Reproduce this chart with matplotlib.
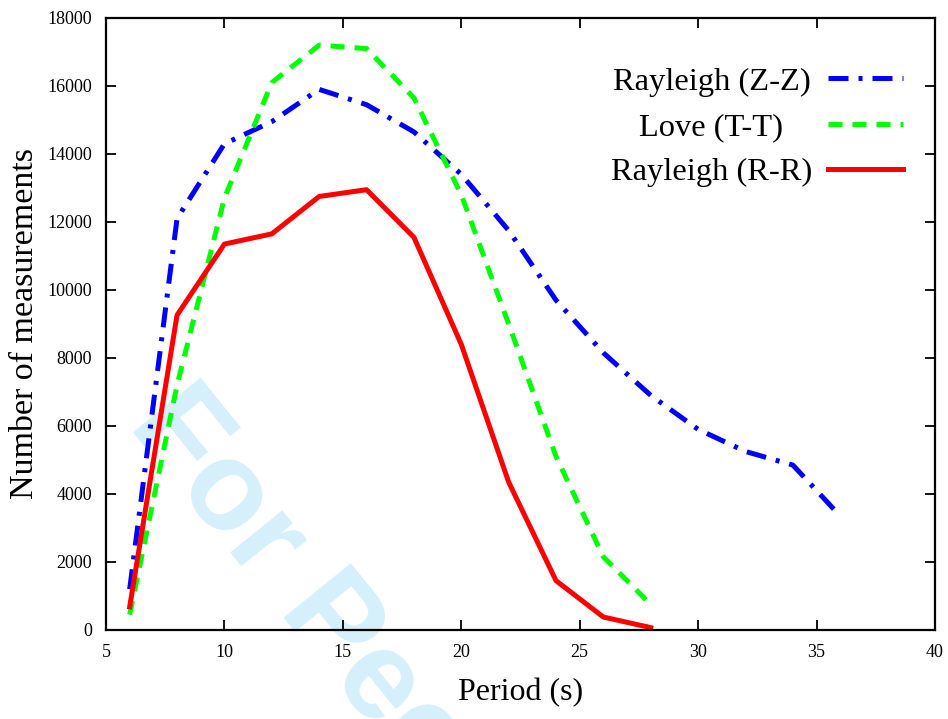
import matplotlib
matplotlib.use("Agg")
import matplotlib.pyplot as plt

periodos_zz = [6, 8, 10, 12, 14, 16, 18, 20, 22, 24, 26, 28, 30, 32, 34, 36]
medidas_zz = [1200, 12100, 14300, 14950, 15900, 15450, 14650, 13400,
              11750, 9700, 8150, 6900, 5900, 5250, 4850, 3350]

periodos_tt = [6, 8, 10, 12, 14, 16, 18, 20, 22, 24, 26, 28]
medidas_tt = [450, 7200, 12700, 16100, 17200, 17100, 15650, 12800,
              9000, 5100, 2150, 750]

periodos_rr = [6, 8, 10, 12, 14, 16, 18, 20, 22, 24, 26, 28]
medidas_rr = [680, 9260, 11350, 11650, 12750, 12950, 11550, 8400,
              4350, 1450, 380, 70]

etiquetas = ["Rayleigh (Z-Z)", "Love (T-T)", "Rayleigh (R-R)"]
xticks = [5, 10, 15, 20, 25, 30, 35, 40]
yticks = list(range(0, 18001, 2000))

plt.rcParams["font.family"] = ["Liberation Serif", "DejaVu Serif"]

fig = plt.figure(figsize=(9.48, 7.19), dpi=100)
ax = fig.add_axes([0.1118, 0.1238, 0.8745, 0.8512])
ax.set_facecolor("none")

# marca de agua de la revista
fig.text(0.134, 0.409, "For Peer Review", rotation=-51, rotation_mode="anchor",
         ha="left", va="baseline", fontsize=91, fontweight="bold",
         family="Liberation Sans", color="#d5effb", zorder=-1)

lw = 3.6
ax.plot(periodos_zz, medidas_zz, color="#0000ff", lw=lw,
        linestyle=(0, (4, 2, 0.8, 2)), label=etiquetas[0])
ax.plot(periodos_tt, medidas_tt, color="#00ff00", lw=lw,
        linestyle=(0, (2.8, 2.0)), label=etiquetas[1])
ax.plot(periodos_rr, medidas_rr, color="#ff0000", lw=lw,
        linestyle="-", label=etiquetas[2])

ax.set_xlim(5, 40)
ax.set_ylim(0, 18000)
ax.set_xticks(xticks)
ax.set_yticks(yticks)
ax.tick_params(direction="in", length=7, width=1.3, top=True, right=True,
               labelsize=13, pad=10)
for s in ax.spines.values():
    s.set_linewidth(1.6)

ax.set_xlabel("Period (s)", fontsize=23, labelpad=12)
ax.set_ylabel("Number of measurements", fontsize=24.5, labelpad=5)

leg = ax.legend(loc="upper right", bbox_to_anchor=(0.9614, 0.920),
                frameon=False, markerfirst=False, fontsize=23.4,
                handlelength=2.3, handletextpad=0.5, labelspacing=0.48,
                borderpad=0, borderaxespad=0)

# centrar los textos de la leyenda como en el original
fig.canvas.draw()
textos = leg.get_texts()
anchos = [t.get_window_extent().width for t in textos]
wmax = max(anchos)
for t, w in zip(textos, anchos):
    t.set_x(-(wmax - w) / 2)

fig.savefig("out.png", dpi=100)
plt.close(fig)
